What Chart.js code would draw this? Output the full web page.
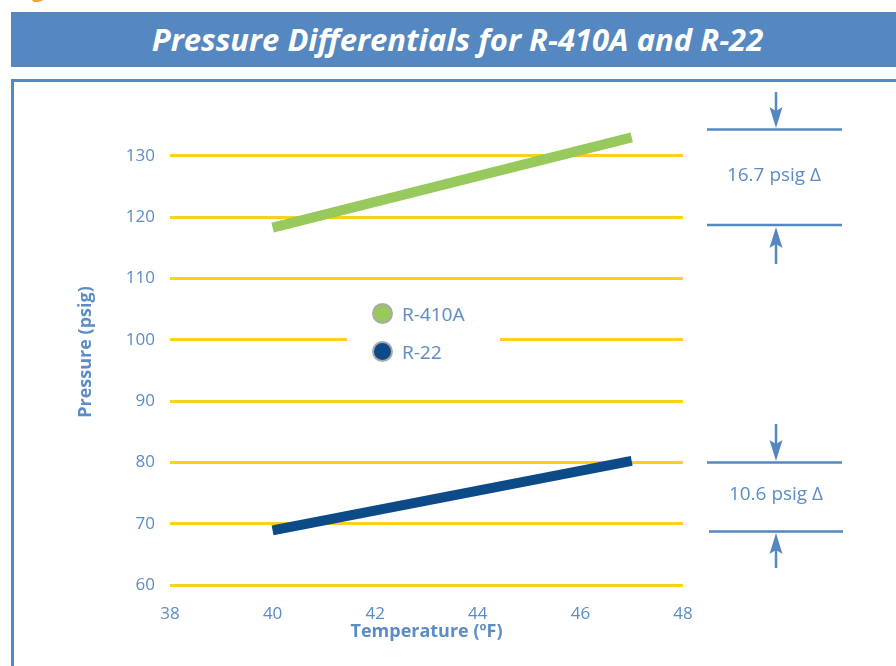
<!DOCTYPE html>
<html>
<head>
<meta charset="utf-8">
<script src="https://cdn.jsdelivr.net/npm/chart.js@4.4.1/dist/chart.umd.min.js"></script>
<style>
  html, body { margin: 0; padding: 0; background: #fff; }
  body { width: 896px; height: 666px; position: relative; overflow: hidden; font-family: "Open Sans", sans-serif; }
  #fig { position: absolute; left: 13px; top: -27px; font: bold 22px "Open Sans", sans-serif; color: #f5a13a; }
  #header { position: absolute; left: 11px; top: 12px; width: 885px; height: 55px; background: #5588c0; }
  #header h1 { margin: 0; color: #fff; font: italic bold 31px "Open Sans", sans-serif; text-align: center; line-height: 55px; padding-left: 8px; }
  #panel { position: absolute; left: 11px; top: 79px; width: 900px; height: 600px; border-top: 3px solid #5588c0; border-left: 3px solid #5588c0; }
  #wrap { position: absolute; left: 0; top: 0; width: 896px; height: 666px; }
  #legend { position: absolute; left: 347px; top: 296px; width: 153px; height: 72px; background: #fff; }
  .item { position: absolute; left: 25px; height: 24px; font-size: 19px; color: #5b8cc5; line-height: 24px; }
  .dot { display: inline-block; width: 17px; height: 17px; border-radius: 50%; border: 2px solid #a9a9a9; vertical-align: middle; margin-right: 9px; position: relative; top: -2px; }
</style>
</head>
<body>
<div id="fig">Fig</div>
<div id="header"><h1>Pressure Differentials for R-410A and R-22</h1></div>
<div id="panel"></div>
<div id="wrap"><canvas id="chart" width="896" height="666"></canvas></div>
<div id="legend"></div>
<script>
// values
const seriesNames = ['R-410A', 'R-22'];
const seriesColors = ['#97c95c', '#0c4a88'];
const temps = [40, 47];
const r410a = [118.3, 133.0];
const r22 = [68.9, 80.25];
const xTicks = [38, 40, 42, 44, 46, 48];
const yTicks = [60, 70, 80, 90, 100, 110, 120, 130];
const deltaLabels = ['16.7 psig \u0394', '10.6 psig \u0394'];

const blue = '#5588c0';
const textBlue = '#5b8cc5';

// legend
const legend = document.getElementById('legend');
seriesNames.forEach((name, i) => {
  const div = document.createElement('div');
  div.className = 'item';
  div.style.top = (6 + i * 38) + 'px';
  div.innerHTML = '<span class="dot" style="background:' + seriesColors[i] + '"></span>' + name;
  legend.appendChild(div);
});

function arrow(ctx, x, from, to) {
  const dir = to > from ? 1 : -1;
  ctx.beginPath();
  ctx.moveTo(x, from);
  ctx.lineTo(x, to - dir * 14);
  ctx.stroke();
  ctx.beginPath();
  ctx.moveTo(x, to);
  ctx.lineTo(x - 6.5, to - dir * 21);
  ctx.lineTo(x, to - dir * 17);
  ctx.lineTo(x + 6.5, to - dir * 21);
  ctx.closePath();
  ctx.fill();
}

const deltaMarks = {
  id: 'deltaMarks',
  afterDraw(chart) {
    const ctx = chart.ctx;
    ctx.save();
    ctx.strokeStyle = blue;
    ctx.fillStyle = blue;
    ctx.lineWidth = 2.5;
    const hl = (x1, x2, y) => { ctx.beginPath(); ctx.moveTo(x1, y); ctx.lineTo(x2, y); ctx.stroke(); };
    hl(707, 842, 129.5);
    hl(707, 842, 225);
    hl(707, 842, 462.5);
    hl(709, 843, 531.5);
    arrow(ctx, 776, 92, 128);
    arrow(ctx, 776, 264, 227);
    arrow(ctx, 776, 424, 461);
    arrow(ctx, 776, 568, 533);
    ctx.fillStyle = textBlue;
    ctx.font = '19px "Open Sans", sans-serif';
    ctx.textAlign = 'center';
    ctx.textBaseline = 'middle';
    ctx.fillText(deltaLabels[0], 774, 176);
    ctx.fillText(deltaLabels[1], 776, 495);
    ctx.restore();
  }
};

new Chart(document.getElementById('chart'), {
  type: 'line',
  data: {
    datasets: [
      { label: seriesNames[0], data: temps.map((t, i) => ({ x: t, y: r410a[i] })), borderColor: seriesColors[0], borderWidth: 10, pointRadius: 0, borderCapStyle: 'butt' },
      { label: seriesNames[1], data: temps.map((t, i) => ({ x: t, y: r22[i] })), borderColor: seriesColors[1], borderWidth: 10, pointRadius: 0, borderCapStyle: 'butt' }
    ]
  },
  options: {
    responsive: false,
    animation: false,
    layout: { padding: { left: 68, right: 213, top: 119, bottom: 23 } },
    plugins: { legend: { display: false }, tooltip: { enabled: false } },
    scales: {
      x: {
        type: 'linear', min: 38, max: 48,
        afterBuildTicks: s => { s.ticks = xTicks.map(v => ({ value: v })); },
        afterFit: s => { s.height = 58; },
        grid: { display: false },
        border: { display: false },
        ticks: { color: textBlue, padding: 11, font: { family: 'Open Sans', size: 17 } },
        title: { display: true, text: 'Temperature (\u00baF)', color: textBlue, padding: { top: 2, bottom: 0 }, font: { family: 'Open Sans', size: 18, weight: 'bold' } }
      },
      y: {
        min: 60, max: 136,
        afterBuildTicks: s => { s.ticks = yTicks.map(v => ({ value: v })); },
        afterFit: s => { s.width = 102; },
        grid: { color: '#fdd117', lineWidth: 3, drawTicks: false },
        border: { display: false },
        ticks: { color: textBlue, padding: 15, font: { family: 'Open Sans', size: 17 } },
        title: { display: true, text: 'Pressure (psig)', color: textBlue, padding: { top: 7, bottom: 4 }, font: { family: 'Open Sans', size: 18, weight: 'bold' } }
      }
    }
  },
  plugins: [deltaMarks]
});
</script>
</body>
</html>
